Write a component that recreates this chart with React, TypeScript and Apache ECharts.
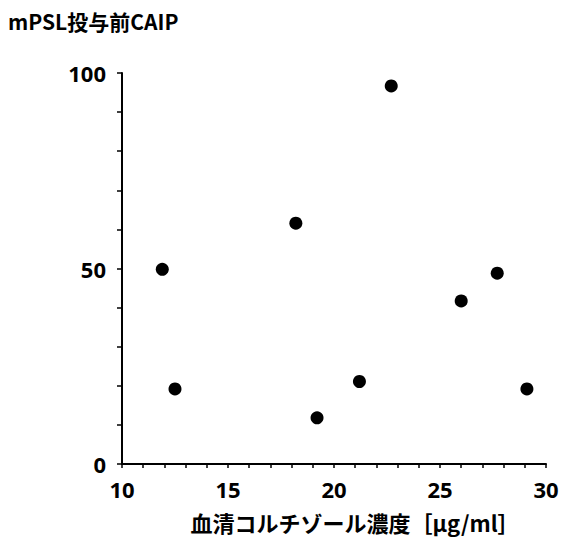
import React, { useEffect, useRef } from "react";
import * as echarts from "echarts";

const cortisol = [11.9, 12.5, 18.2, 19.2, 21.2, 22.7, 26.0, 27.7, 29.1];
const caip = [49.8, 19.2, 61.6, 11.8, 21.1, 96.7, 41.7, 48.8, 19.2];
const yTitle = "mPSL投与前CAIP";
const xTitle = "血清コルチゾール濃度［μg/ml］";

export default function App() {
  const ref = useRef<HTMLDivElement>(null);
  useEffect(() => {
    if (!ref.current) return;
    const chart = echarts.init(ref.current, null, { renderer: "svg" });
    const font = '"Noto Sans CJK JP", "Noto Sans", sans-serif';
    const numFont = '"Noto Sans", "DejaVu Sans", sans-serif';
    chart.setOption({
      animation: false,
      backgroundColor: "#fff",
      grid: { left: 122, right: 23, top: 73, bottom: 86, containLabel: false },
      graphic: [
        {
          type: "text",
          left: 8,
          top: 10,
          style: { text: yTitle, font: `bold 21px ${font}`, fill: "#000" },
        },
      ],
      xAxis: {
        type: "value",
        min: 10,
        max: 30,
        interval: 5,
        name: xTitle,
        nameLocation: "middle",
        nameGap: 47,
        nameTextStyle: { fontFamily: font, fontSize: 22, fontWeight: "bold", color: "#000", padding: [0, 0, 0, 42] },
        axisLine: { lineStyle: { color: "#000", width: 2 } },
        axisTick: { show: true, length: 4, lineStyle: { color: "#000", width: 1.5 } },
        minorTick: { show: true, splitNumber: 5, length: 4, lineStyle: { color: "#000", width: 1.5 } },
        axisLabel: { fontFamily: numFont, fontSize: 22, color: "#000", margin: 14, fontWeight: "bold" },
        splitLine: { show: false },
      },
      yAxis: {
        type: "value",
        min: 0,
        max: 100,
        interval: 50,
        axisLine: { show: true, lineStyle: { color: "#000", width: 2 } },
        axisTick: { show: true, length: 5, lineStyle: { color: "#000", width: 1.5 } },
        minorTick: { show: true, splitNumber: 5, length: 5, lineStyle: { color: "#000", width: 1.5 } },
        axisLabel: { fontFamily: numFont, fontSize: 22, color: "#000", margin: 16, fontWeight: "bold" },
        splitLine: { show: false },
      },
      series: [
        {
          type: "scatter",
          data: cortisol.map((x, i) => [x, caip[i]]),
          symbol: "circle",
          symbolSize: 13,
          itemStyle: { color: "#000", opacity: 1 },
        },
      ],
    });
    return () => chart.dispose();
  }, []);
  return <div ref={ref} style={{ width: 569, height: 550, margin: -8 }} />;
}
